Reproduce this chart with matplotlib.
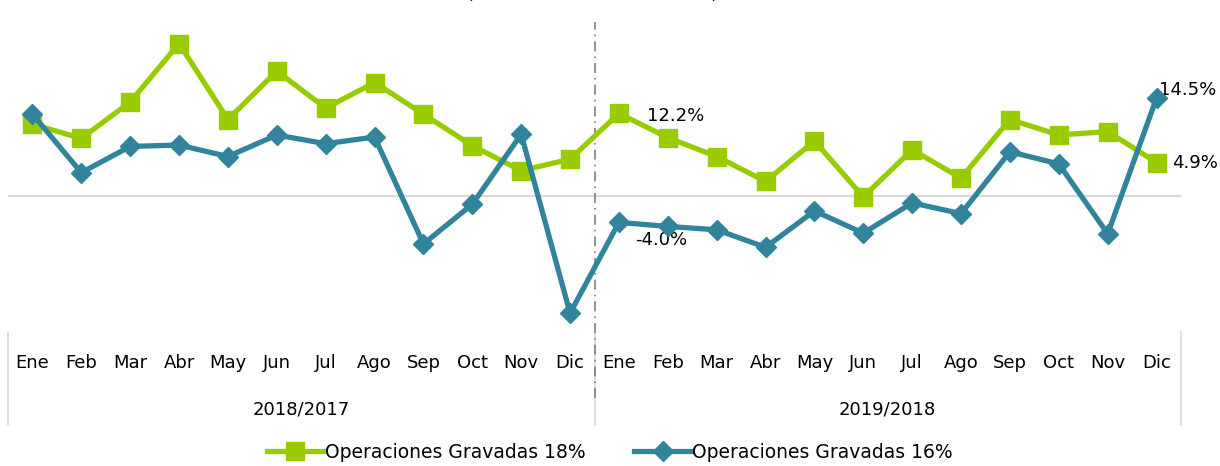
import matplotlib
matplotlib.use("Agg")
import matplotlib.pyplot as plt

plt.rcParams['font.family'] = ['DejaVu Sans']

# ---- datos ----
meses = ["Ene", "Feb", "Mar", "Abr", "May", "Jun", "Jul", "Ago", "Sep", "Oct", "Nov", "Dic"]
periodos = ["2018/2017", "2019/2018"]
gravadas_18 = [10.6, 8.5, 13.9, 22.6, 11.3, 18.5, 13.0, 16.8, 12.1, 7.4, 3.7, 5.4,
               12.2, 8.6, 5.8, 2.1, 8.1, -0.2, 6.8, 2.6, 11.3, 9.0, 9.5, 4.9]
gravadas_16 = [12.1, 3.4, 7.3, 7.5, 5.8, 9.0, 7.7, 8.7, -7.2, -1.3, 9.1, -17.5,
               -4.0, -4.6, -5.1, -7.7, -2.3, -5.6, -1.1, -2.7, 6.5, 4.7, -5.7, 14.5]

verde = "#99CC00"
azul = "#31849B"

fig = plt.figure(figsize=(12.2, 4.66), dpi=100)
ax = fig.add_axes([8/1220, (466-332)/466, (1181-8)/1220, (332-20)/466])

x = list(range(len(gravadas_18)))
ax.axhline(0, color="#D9D9D9", lw=1.6, zorder=1)
ax.plot(x, gravadas_18, color=verde, lw=3.8, marker="s", ms=13,
        label="Operaciones Gravadas 18%", zorder=3)
ax.plot(x, gravadas_16, color=azul, lw=3.8, marker="D", ms=10,
        label="Operaciones Gravadas 16%", zorder=4)

ax.set_xlim(-0.5, 23.5)
ax.set_ylim(-20.3, 26.1)
ax.set_xticks([])
ax.set_yticks([])
for s in ax.spines.values():
    s.set_visible(False)

# etiquetas de datos
ax.annotate("12.2%", (12, gravadas_18[12]), xytext=(20, -2), textcoords="offset points",
            fontsize=13, va="center")
ax.annotate("-4.0%", (12, gravadas_16[12]), xytext=(12, -13), textcoords="offset points",
            fontsize=13, va="center")
ax.annotate("14.5%", (23, gravadas_16[23]), xytext=(2, 6), textcoords="offset points",
            fontsize=13, va="center")
ax.annotate("4.9%", (23, gravadas_18[23]), xytext=(11, 0), textcoords="offset points",
            fontsize=13, va="center")

# eje de categorias en dos niveles
tr = ax.get_xaxis_transform()
for i in x:
    ax.text(i, -0.099, meses[i % 12], transform=tr, ha="center", va="center", fontsize=13)
for k, p in enumerate(periodos):
    ax.text(5.5 + 12*k, -0.247, p, transform=tr, ha="center", va="center", fontsize=13)
for xs in [-0.5, 11.5, 23.5]:
    ax.plot([xs, xs], [0, -0.298], transform=tr, color="#D9D9D9", lw=1.2, clip_on=False)

# separador de periodos
ax.plot([11.5, 11.5], [-0.21, 0.994], transform=tr, color="#808080", lw=1.2,
        ls=(0, (6, 3, 1, 3)), clip_on=False, zorder=2)

# titulo (cortado en el borde superior, solo se ve la parte baja)
fig.text(0.492, 1 + 1/466, "Mismo mes, año actual vs mismo mes, año anterior",
         ha="center", va="baseline", fontsize=13)

fig.legend(loc="center", bbox_to_anchor=(0.5, 14/466), ncol=2, frameon=False,
           fontsize=13.5, handlelength=3.0, columnspacing=2.6, numpoints=1,
           handletextpad=0.1)

fig.savefig("out.png", dpi=100)
